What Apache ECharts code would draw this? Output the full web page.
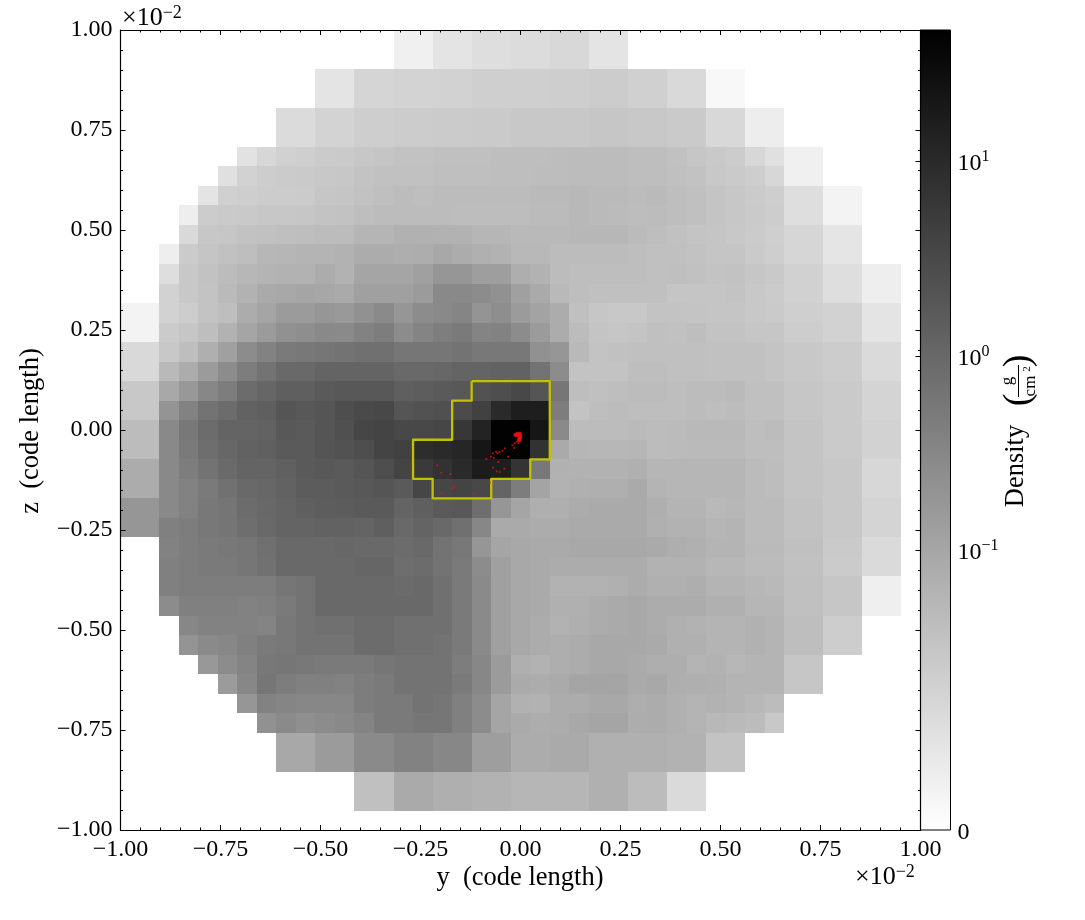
<!DOCTYPE html>
<html><head><meta charset="utf-8">
<style>html,body{margin:0;padding:0;background:#fff}#c{width:1085px;height:920px}</style>
<script src="https://cdn.jsdelivr.net/npm/echarts@6/dist/echarts.min.js"></script>
</head><body><div id="c"></div>
<script>
// density in units of 10^-3 g/cm^2; 0 = no data
const r01=[0,0,0,0,0,0,0,0,0,0,0,0,0,0,17,17,30,30,37,37,39,39,44,44,30,30];
const r23=[0,0,0,0,0,0,0,0,0,0,30,30,47,47,49,49,50,50,54,54,54,54,55,55,57,57,53,53,43,43,8,8];
const r45=[0,0,0,0,0,0,0,0,40,40,49,49,55,55,57,57,58,58,59,59,62,62,62,62,64,64,62,62,59,59,44,44,20,20];
const r06=[0,0,0,0,0,0,32,45,52,54,58,59,63,65,68,68,71,71,71,73,73,73,74,75,75,75,73,73,69,64,60,57,45,35,17,17];
const r07=[0,0,0,0,0,35,50,56,58,59,62,63,67,69,69,69,72,72,72,73,73,74,74,75,75,75,73,73,71,68,62,59,55,45,17,17];
const r08=[0,0,0,0,30,53,55,57,57,58,64,65,68,72,75,73,75,75,75,75,75,77,77,80,77,77,75,77,73,71,66,63,58,55,37,37,13,13];
const r09=[0,0,0,19,57,59,60,63,63,64,67,68,73,75,75,75,75,74,74,74,74,76,76,80,77,76,74,75,73,71,66,63,59,56,37,37,13,13];
const r10=[0,0,0,43,63,64,68,69,72,73,75,75,83,83,87,87,86,86,82,82,78,78,78,81,81,81,76,73,69,66,65,62,58,54,46,46,29,29];
const r11=[0,0,19,58,65,69,73,81,82,84,84,86,93,93,91,92,97,93,88,86,80,80,75,75,75,75,73,71,71,68,65,65,59,55,46,46,29,29];
const r12=[0,0,37,62,68,75,81,84,86,86,93,86,104,104,104,126,180,180,135,135,91,86,75,73,73,73,73,71,72,69,67,68,64,60,52,52,37,37,19,19];
const r13=[0,0,50,62,67,77,86,95,97,104,99,95,126,126,126,150,296,296,263,218,126,95,78,73,71,71,71,71,65,65,65,67,62,58,52,52,37,37,19,19];
const r14=[13,13,50,56,67,73,93,104,150,150,180,163,218,283,180,263,296,340,196,244,150,114,93,71,64,62,62,67,67,66,65,65,62,59,54,54,50,50,30,30];
const r15=[13,13,58,64,73,86,104,150,218,244,296,283,380,459,263,352,442,514,352,380,263,150,93,75,66,64,66,71,69,73,67,67,64,64,56,56,50,50,30,30];
const r16=[43,43,62,73,90,126,263,380,514,550,592,664,740,740,592,592,592,664,550,550,550,218,180,78,67,69,71,71,71,71,69,69,69,66,62,62,57,57,41,41];
const r17=[43,43,78,93,150,263,459,664,957,957,1160,1160,1160,1160,957,957,1030,1160,1160,1245,1245,664,263,67,67,67,73,73,71,71,69,69,69,66,62,62,57,57,41,41];
const r18=[62,62,97,169,316,459,859,1070,1390,1390,1680,1810,1810,1810,1390,1490,1680,1810,2240,2620,3280,2020,592,73,71,73,75,75,73,75,75,77,71,71,64,64,59,59,48,48];
const r19=[62,62,196,380,664,859,1245,1390,2020,1810,2020,2620,3030,3280,2020,2240,2430,2920,4230,9890,15500,15500,459,67,73,75,73,73,73,75,73,75,71,71,64,64,59,59,48,48];
const r20=[75,75,296,550,859,1160,1160,1245,1810,1680,2020,2430,3510,3780,3280,3280,3510,6120,12900,43000,43000,20800,283,75,75,75,77,75,76,78,78,78,73,75,66,66,59,59,50,50];
const r21=[75,75,296,514,800,1030,1245,1340,1680,1680,2020,2240,2620,3780,4230,8890,9890,11500,20800,43000,43000,7360,95,82,81,81,82,75,76,77,77,77,73,73,66,66,59,59,50,50];
const r22=[93,93,296,459,664,925,1160,1160,1340,1680,1810,1680,2020,2620,3780,5500,7360,9890,16600,15500,6850,550,87,86,86,86,88,82,82,82,82,82,76,74,66,66,62,62,45,45];
const r23b=[93,93,296,380,514,714,957,1030,1245,1550,1550,1680,1810,2020,1680,3510,3510,3780,3280,1160,459,108,86,88,90,90,95,84,82,82,82,82,76,74,66,66,62,62,45,45];
const r24=[180,180,296,380,550,615,859,990,1160,1390,1490,1550,1680,1680,1160,1390,1680,1810,800,180,104,90,90,93,95,95,95,90,84,84,78,81,76,76,68,68,62,62,48,48];
const r25=[180,180,409,459,550,615,800,957,1160,1160,1245,1245,1160,1390,957,1160,957,740,316,95,95,93,93,95,95,95,95,88,86,86,82,84,76,76,68,68,62,62,48,48];
const r26=[0,0,380,459,514,550,592,740,957,957,957,1030,957,957,859,957,664,550,180,104,97,95,95,97,97,97,97,95,91,88,84,84,77,77,71,71,59,59,41,41];
const r27=[0,0,409,459,514,514,592,714,957,957,957,957,1070,1070,800,859,664,514,263,126,97,95,93,93,93,93,93,86,86,86,81,81,76,76,69,69,58,58,41,41];
const r28=[0,0,409,459,459,459,459,459,592,664,957,957,957,957,890,957,740,514,283,126,97,95,86,86,86,88,93,88,88,91,84,84,81,78,71,71,64,64,18,18];
const r29=[0,0,263,409,409,409,380,409,514,664,957,957,957,957,957,957,740,514,283,126,97,95,88,88,93,95,97,93,93,93,88,88,82,82,71,71,64,64,18,18];
const r30=[0,0,0,316,380,380,380,352,550,664,740,740,859,859,740,740,740,514,283,126,97,93,86,90,93,95,97,93,88,86,84,84,87,84,73,73,56,56];
const r31=[0,0,0,196,283,316,409,514,550,664,664,664,859,859,740,740,664,514,283,126,97,93,91,93,97,97,97,95,88,88,84,84,87,84,73,73,56,56];
const r32=[0,0,0,0,169,263,352,550,592,550,514,514,514,592,664,664,664,459,316,150,90,86,91,93,97,97,95,91,91,84,86,81,84,84,64,64];
const r33=[0,0,0,0,0,150,316,592,459,409,409,380,459,514,664,664,664,514,316,150,95,93,95,104,108,104,95,97,91,90,88,84,84,84,64,64];
const r34=[0,0,0,0,0,0,180,380,340,316,316,316,459,514,514,664,592,409,263,104,87,86,93,93,97,97,91,93,88,84,86,84,80,75];
const r35=[0,0,0,0,0,0,0,218,283,234,263,296,352,514,514,592,592,409,263,104,95,92,93,97,104,104,92,93,88,84,80,77,75,62];
const r3637=[0,0,0,0,0,0,0,0,97,97,150,150,283,283,380,380,316,316,135,135,93,93,95,95,88,88,88,88,86,86,67,67];
const r3839=[0,0,0,0,0,0,0,0,0,0,0,0,71,71,95,95,90,90,86,86,82,82,82,82,88,88,75,75,41,41];
const densityRows=[r01,r01,r23,r23,r45,r45,r06,r07,r08,r09,r10,r11,r12,r13,r14,r15,r16,r17,r18,r19,r20,r21,r22,r23b,r24,r25,r26,r27,r28,r29,r30,r31,r32,r33,r34,r35,r3637,r3637,r3839,r3839];

const contourY=[-0.1221,0.0732,0.0732,0.0244,0.0244,-0.0732,-0.0732,-0.2197,-0.2197,-0.2686,-0.2686,-0.1709,-0.1709,-0.1221,-0.1221];
const contourZ=[0.1221,0.1221,-0.0732,-0.0732,-0.1221,-0.1221,-0.1709,-0.1709,-0.1221,-0.1221,-0.0244,-0.0244,0.0732,0.0732,0.1221];
const starsY=[-.0113,-.0079,-.0046,-.0013,.0004,-.0096,-.0054,-.0013,-.0029,.0004,-.0046,-.0013,-.0138,-.0029,-.0088,-.0146,-.0054,-.0204,-.0154,-.0388,-.0454,-.0529,-.0613,-.0688,-.0579,-.0738,-.067,-.0854,-.0313,-.0554,-.0688,-.0404,-.0596,-.0521,-.208,-.198,-.1754,-.1704,-.1654,-.197,-.1163,-.0763];
const starsZ=[-.0108,-.0083,-.0108,-.0083,-.0125,-.0142,-.015,-.0167,-.0208,-.0192,-.0242,-.0233,-.0125,-.0267,-.0292,-.0333,-.0333,-.0383,-.045,-.0458,-.0517,-.055,-.0542,-.0583,-.0583,-.0667,-.07,-.0725,-.0667,-.08,-.0942,-.0967,-.1033,-.105,-.0883,-.1067,-.11,-.145,-.1408,-.1575,-.1592,-.1317];
const cbarTicks=[0,0.1,1,10];
const cbarTickText=['0','10|−1','10|0','10|1'];

const SERIF='"Liberation Serif","DejaVu Serif",serif';
const FS=24;
const CELL=2/40.96;
// colour-bar position of a density (symmetric-log scale)
function cbPos(d){return d<=0.1?0.35*d/0.1:0.5925+0.2437*Math.log10(d);}
function gray(d){const g=Math.round(255*(1-Math.min(1,cbPos(d))));return 'rgb('+g+','+g+','+g+')';}

const cells=[];
densityRows.forEach((row,r)=>row.forEach((v,c)=>{
  if(!v)return;
  const i=c-20,j=20-r;
  cells.push([(i-.5)*CELL,(i+.5)*CELL,(j-.5)*CELL,(j+.5)*CELL,v/1000]);
}));

const tickFmt=v=>{const s=v.toFixed(2);return s.replace('-','−');};
function mainAxis(pos,labels,pad){
  return {type:'value',position:pos,min:-1,max:1,interval:0.25,z:10,
    axisLine:{show:true,onZero:false,lineStyle:{color:'#000',width:1.2}},
    axisTick:{show:true,inside:true,length:5,lineStyle:{color:'#000',width:1}},
    minorTick:{show:true,splitNumber:5,length:2.5,lineStyle:{color:'#000',width:1}},
    splitLine:{show:false},minorSplitLine:{show:false},
    axisLabel:{show:labels,formatter:tickFmt,fontFamily:SERIF,fontSize:FS,color:'#000',margin:8,padding:pad||0,showMinLabel:true,showMaxLabel:true,hideOverlap:false}};
}
const rich={n:{fontFamily:SERIF,fontSize:FS,color:'#000',lineHeight:30},
            e:{fontFamily:SERIF,fontSize:16,color:'#000',verticalAlign:'top',lineHeight:20}};
function txt(x,y,text,size,rot,extra){
  return {type:'text',x:x,y:y,rotation:rot||0,z:50,style:Object.assign({text:text,fontFamily:SERIF,fontSize:size,fill:'#000',align:'center',verticalAlign:'middle'},extra||{})};
}
const R=Math.PI/2;
const sciRich={a:{fontFamily:SERIF,fontSize:26,fill:'#000',lineHeight:28},b:{fontFamily:SERIF,fontSize:18,fill:'#000',verticalAlign:'top',lineHeight:18}};
const option={
  animation:false,backgroundColor:'#fff',
  grid:[{left:120.5,top:30,width:800,height:800,containLabel:false},{left:920.5,top:30,width:30,height:800}],
  xAxis:[mainAxis('bottom',true),mainAxis('top',false),{type:'value',gridIndex:1,min:0,max:1,show:false}],
  yAxis:[mainAxis('left',true,[3,0,0,0]),mainAxis('right',false),{
    type:'value',gridIndex:1,position:'right',min:0,max:1,z:10,
    axisLine:{show:false},splitLine:{show:false},
    axisTick:{show:true,inside:true,length:5,lineStyle:{color:'#000',width:1},customValues:cbarTicks.map(cbPos)},
    axisLabel:{show:true,margin:7,padding:[5,0,0,0],color:'#000',customValues:cbarTicks.map(cbPos),rich:rich,
      formatter:v=>{
        const k=cbarTicks.map(cbPos).findIndex(p=>Math.abs(p-v)<1e-6);
        const p=(cbarTickText[k]||'').split('|');
        return p.length>1?'{n|'+p[0]+'}{e|'+p[1]+'}':'{n|'+p[0]+'}';
      }}
  }],
  graphic:[
    {type:'text',x:122,y:4,z:50,style:{text:'{a|×10}{b|−2}',rich:sciRich}},
    {type:'text',x:855,y:863,z:50,style:{text:'{a|×10}{b|−2}',rich:sciRich}},
    txt(520,878,'y  (code length)',26.5),
    txt(31,431,'z  (code length)',26.5,R),
    txt(1016,466,'Density',26.5,R),
    txt(1019,400,'(',38,R),
    txt(1019,361,')',38,R),
    txt(1008,381,'g',17,R),
    {type:'line',z:50,shape:{x1:1018.5,y1:365,x2:1018.5,y2:397},style:{stroke:'#000',lineWidth:1}},
    txt(1031,386,'cm',17,R),
    txt(1027,369,'2',11,R)
  ],
  series:[
    {type:'custom',xAxisIndex:0,yAxisIndex:0,clip:true,z:2,data:cells,encode:{x:[0,1],y:[2,3]},silent:true,
     renderItem:(p,api)=>{
       const a=api.coord([api.value(0),api.value(3)]),b=api.coord([api.value(1),api.value(2)]);
       const x=Math.round(a[0]),y=Math.round(a[1]);
       const rect=echarts.graphic.clipRectByRect({x:x,y:y,width:Math.round(b[0])-x,height:Math.round(b[1])-y},
         {x:p.coordSys.x,y:p.coordSys.y,width:p.coordSys.width,height:p.coordSys.height});
       return rect&&{type:'rect',shape:rect,style:{fill:gray(api.value(4))}};
     }},
    {type:'line',xAxisIndex:0,yAxisIndex:0,z:3,showSymbol:false,symbol:'none',silent:true,
     data:contourY.map((y,i)=>[y,contourZ[i]]),
     lineStyle:{color:'#c2c200',width:2.3,join:'round'}},
    {type:'scatter',xAxisIndex:0,yAxisIndex:0,z:4,silent:true,symbol:'rect',
     symbolSize:(v,p)=>p.dataIndex<14?3:1.8,
     data:starsY.map((y,i)=>[y,starsZ[i]]),itemStyle:{color:'#ee1111'}},
    {type:'custom',xAxisIndex:2,yAxisIndex:2,z:2,silent:true,data:[[0,0,1,1]],
     renderItem:(p,api)=>{
       const a=api.coord([api.value(0),api.value(3)]),b=api.coord([api.value(2),api.value(1)]);
       return {type:'rect',shape:{x:a[0],y:a[1],width:b[0]-a[0],height:b[1]-a[1]},
         style:{stroke:'#000',lineWidth:1,fill:new echarts.graphic.LinearGradient(0,0,0,1,[{offset:0,color:'#000'},{offset:1,color:'#fff'}])}};
     }}
  ]
};
echarts.init(document.getElementById('c')).setOption(option);
</script></body></html>
